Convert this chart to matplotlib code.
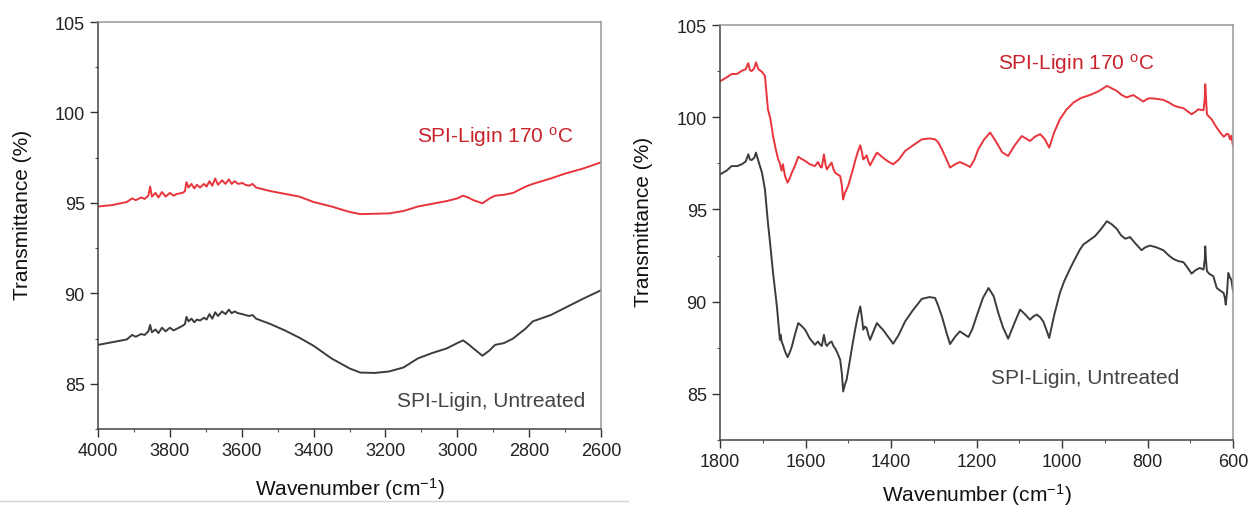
import matplotlib
matplotlib.use('Agg')
from matplotlib import pyplot as plt
from matplotlib.lines import Line2D
from matplotlib.ticker import MultipleLocator

plt.rcParams['font.family'] = ['Liberation Sans', 'DejaVu Sans']
plt.rcParams['mathtext.default'] = 'regular'

# OH / CH stretch region (4000-2600 cm-1)
hi_wn = [4000, 3960, 3920, 3905, 3895, 3880, 3870, 3860, 3855, 3850, 3840, 3832,
         3822, 3812, 3800, 3790, 3780, 3765, 3758, 3754, 3748, 3740, 3732, 3725,
         3716, 3705, 3698, 3690, 3682, 3674, 3666, 3655, 3645, 3636, 3628, 3620,
         3610, 3598, 3590, 3580, 3570, 3560, 3520, 3480, 3440, 3400, 3350, 3300,
         3270, 3230, 3190, 3150, 3110, 3070, 3030, 3000, 2984, 2970, 2955, 2930,
         2910, 2895, 2870, 2845, 2810, 2790, 2740, 2700, 2650, 2600]
hi_treated = [94.80, 94.88, 95.05, 95.25, 95.15, 95.30, 95.22, 95.40, 95.90, 95.35,
              95.55, 95.30, 95.60, 95.35, 95.55, 95.40, 95.50, 95.55, 95.65, 96.15,
              95.85, 96.05, 95.80, 96.00, 95.85, 96.05, 95.90, 96.20, 95.95, 96.35,
              96.00, 96.25, 96.05, 96.30, 96.05, 96.20, 96.05, 96.10, 96.00, 95.95,
              96.05, 95.85, 95.65, 95.50, 95.35, 95.05, 94.80, 94.50, 94.38, 94.40,
              94.42, 94.55, 94.80, 94.95, 95.10, 95.25, 95.40, 95.30, 95.15, 94.98,
              95.25, 95.40, 95.45, 95.55, 95.90, 96.05, 96.35, 96.62, 96.90, 97.24]
hi_untreated = [87.15, 87.30, 87.45, 87.70, 87.60, 87.75, 87.70, 87.90, 88.25, 87.85,
                88.00, 87.80, 88.10, 87.90, 88.10, 87.95, 88.05, 88.20, 88.30, 88.70,
                88.45, 88.60, 88.40, 88.55, 88.50, 88.65, 88.55, 88.85, 88.60, 88.95,
                88.75, 89.00, 88.85, 89.10, 88.90, 89.00, 88.90, 88.85, 88.80, 88.75,
                88.80, 88.60, 88.30, 87.95, 87.55, 87.10, 86.40, 85.85, 85.62, 85.60,
                85.68, 85.90, 86.40, 86.70, 86.95, 87.25, 87.40, 87.20, 86.95, 86.55,
                86.85, 87.15, 87.25, 87.50, 88.05, 88.45, 88.80, 89.20, 89.70, 90.17]

# fingerprint region (1800-600 cm-1)
lo_wn_t = [1800, 1785, 1773, 1760, 1749, 1740, 1734, 1730, 1726, 1720, 1716, 1710,
           1702, 1695, 1688, 1682, 1676, 1670, 1664, 1660, 1656, 1653, 1648, 1642,
           1636, 1632, 1625, 1617, 1610, 1601, 1590, 1578, 1571, 1565, 1562, 1557,
           1553, 1550, 1545, 1539, 1535, 1531, 1525, 1519, 1515, 1512, 1508, 1504,
           1500, 1496, 1490, 1484, 1478, 1472, 1468, 1465, 1461, 1457, 1453, 1449,
           1441, 1433, 1426, 1419, 1407, 1395, 1382, 1367, 1350, 1328, 1310, 1297,
           1290, 1281, 1270, 1262, 1250, 1239, 1227, 1215, 1205, 1196, 1182, 1168,
           1153, 1140, 1126, 1110, 1094, 1085, 1075, 1063, 1051, 1040, 1030, 1018,
           1005, 990, 973, 955, 935, 915, 895, 872, 860, 849, 840, 833, 820, 810,
           800, 794, 780, 763, 750, 740, 728, 716, 705, 697, 688, 681, 675, 669,
           666, 665, 663, 661, 655, 650, 640, 630, 622, 619, 615, 611, 607, 604, 600]
lo_treated = [101.95, 102.15, 102.34, 102.35, 102.52, 102.60, 102.93, 102.55, 102.50,
              102.65, 102.97, 102.60, 102.46, 102.24, 100.43, 99.90, 98.98, 98.30,
              97.72, 97.50, 97.10, 97.45, 96.81, 96.45, 96.75, 97.00, 97.35, 97.86,
              97.75, 97.63, 97.45, 97.35, 97.57, 97.30, 97.27, 97.99, 97.40, 97.17,
              97.35, 97.54, 97.20, 97.00, 96.90, 96.81, 96.30, 95.54, 95.90, 96.09,
              96.30, 96.63, 97.10, 97.63, 98.10, 98.48, 98.10, 97.72, 97.80, 97.93,
              97.60, 97.39, 97.75, 98.08, 97.95, 97.81, 97.60, 97.45, 97.70, 98.17,
              98.45, 98.80, 98.85, 98.80, 98.65, 98.26, 97.70, 97.27, 97.45, 97.57,
              97.45, 97.30, 97.70, 98.26, 98.80, 99.17, 98.62, 98.10, 97.90, 98.50,
              98.98, 98.85, 98.71, 98.95, 99.08, 98.80, 98.35, 99.20, 99.89, 100.40,
              100.80, 101.05, 101.20, 101.40, 101.70, 101.43, 101.20, 101.07, 101.15,
              101.20, 101.00, 100.85, 101.00, 101.03, 101.00, 100.94, 100.80, 100.65,
              100.55, 100.49, 100.30, 100.16, 100.30, 100.43, 100.40, 100.38, 101.00,
              101.79, 101.00, 100.16, 100.00, 99.89, 99.50, 99.17, 98.95, 98.98,
              99.10, 99.08, 98.80, 99.00, 98.45]

lo_wn_u = [1800, 1785, 1773, 1760, 1749, 1740, 1734, 1730, 1726, 1720, 1716, 1710,
           1702, 1695, 1688, 1683, 1676, 1667, 1660, 1658, 1656, 1652, 1648, 1642,
           1636, 1632, 1625, 1617, 1610, 1601, 1590, 1578, 1571, 1565, 1562, 1557,
           1553, 1550, 1545, 1539, 1535, 1531, 1525, 1519, 1515, 1512, 1508, 1504,
           1500, 1496, 1490, 1484, 1478, 1472, 1468, 1465, 1461, 1457, 1453, 1449,
           1441, 1433, 1426, 1419, 1407, 1395, 1382, 1367, 1350, 1328, 1310, 1297,
           1290, 1281, 1270, 1262, 1250, 1239, 1227, 1219, 1210, 1200, 1185, 1172,
           1160, 1149, 1138, 1126, 1112, 1098, 1086, 1075, 1067, 1059, 1051, 1044,
           1037, 1030, 1018, 1005, 995, 981, 970, 958, 950, 935, 923, 910, 895, 884,
           872, 862, 852, 841, 830, 814, 805, 794, 780, 763, 750, 740, 728, 716,
           705, 697, 688, 678, 669, 666, 665, 663, 661, 655, 646, 638, 630, 622,
           619, 617, 614, 611, 607, 604, 600]
lo_untreated = [96.90, 97.10, 97.35, 97.35, 97.45, 97.60, 97.99, 97.70, 97.68, 97.80,
                98.08, 97.60, 97.00, 96.09, 94.28, 93.19, 91.56, 89.74, 87.93, 88.20,
                87.84, 87.60, 87.30, 86.99, 87.30, 87.57, 88.20, 88.84, 88.70, 88.48,
                88.00, 87.66, 87.84, 87.65, 87.60, 88.20, 87.70, 87.60, 87.75, 87.84,
                87.60, 87.48, 87.20, 86.85, 86.10, 85.13, 85.50, 85.76, 86.30, 86.85,
                87.70, 88.48, 89.20, 89.74, 89.10, 88.48, 88.65, 88.57, 88.20, 87.93,
                88.40, 88.84, 88.65, 88.48, 88.10, 87.72, 88.20, 88.93, 89.50, 90.15,
                90.25, 90.20, 89.80, 89.20, 88.30, 87.70, 88.10, 88.39, 88.20, 88.08,
                88.50, 89.20, 90.20, 90.74, 90.30, 89.38, 88.60, 87.99, 88.80, 89.57,
                89.30, 89.02, 89.20, 89.30, 89.15, 88.93, 88.50, 88.03, 89.30, 90.47,
                91.10, 91.80, 92.30, 92.83, 93.10, 93.35, 93.55, 93.90, 94.36, 94.20,
                93.95, 93.60, 93.41, 93.50, 93.20, 92.79, 92.95, 93.04, 92.95, 92.79,
                92.50, 92.32, 92.20, 92.14, 91.80, 91.52, 91.70, 91.83, 91.74, 92.30,
                93.00, 92.20, 91.65, 91.50, 91.38, 90.74, 90.60, 90.47, 90.20, 89.84,
                90.50, 91.56, 91.30, 91.20, 90.60]

RED = '#e8343b'
GREY = '#3c3c3c'


def style_axes(ax, xmin, xmax):
    ax.set_xlim(xmin, xmax)
    ax.set_ylim(82.5, 105)
    ax.yaxis.set_major_locator(MultipleLocator(5))
    ax.yaxis.set_minor_locator(MultipleLocator(2.5))
    ax.xaxis.set_major_locator(MultipleLocator(200))
    ax.xaxis.set_minor_locator(MultipleLocator(100))
    ax.tick_params(which='major', direction='out', length=5.5, width=1,
                   labelsize=13, pad=4, colors='#333333', labelcolor='#222222')
    ax.tick_params(which='minor', direction='out', length=2.5, width=0.8,
                   colors='#555555')
    for side in ('left', 'bottom'):
        ax.spines[side].set_color('#444444')
        ax.spines[side].set_linewidth(1.1)
    for side in ('top', 'right'):
        ax.spines[side].set_color('#999999')
        ax.spines[side].set_linewidth(1.1)
    ax.set_ylabel('Transmittance (%)', fontsize=15, color='#111111')
    ax.set_xlabel('Wavenumber (cm$^{-1}$)', fontsize=15, color='#111111')


fig = plt.figure(figsize=(12.49, 5.06), dpi=100)
ax1 = fig.add_axes([0.0785, 0.1502, 0.4027, 0.8043])
ax2 = fig.add_axes([0.5765, 0.1285, 0.4107, 0.8201])

ax1.plot(hi_wn, hi_treated, color=RED, lw=1.4)
ax1.plot(hi_wn, hi_untreated, color=GREY, lw=1.4)
style_axes(ax1, 4000, 2600)
ax1.yaxis.set_label_coords(-0.131, 0.528)
ax1.xaxis.set_label_coords(0.5, -0.113)
ax1.text(2895, 98.72, 'SPI-Ligin 170 $^{o}$C', color='#c8222b', fontsize=15,
         ha='center', va='center')
ax1.text(2905, 84.06, 'SPI-Ligin, Untreated', color='#444444', fontsize=15,
         ha='center', va='center')

ax2.plot(lo_wn_t, lo_treated, color=RED, lw=1.4)
ax2.plot(lo_wn_u, lo_untreated, color=GREY, lw=1.4)
style_axes(ax2, 1800, 600)
ax2.yaxis.set_label_coords(-0.131, 0.528)
ax2.xaxis.set_label_coords(0.5, -0.1)
ax2.text(967, 102.93, 'SPI-Ligin 170 $^{o}$C', color='#c8222b', fontsize=15,
         ha='center', va='center')
ax2.text(946, 85.87, 'SPI-Ligin, Untreated', color='#444444', fontsize=15,
         ha='center', va='center')

# thin separator under the left panel
fig.add_artist(Line2D([0, 0.503], [0.008, 0.008], color='#d4d4d4', lw=1))

fig.savefig('out.png', dpi=100)
